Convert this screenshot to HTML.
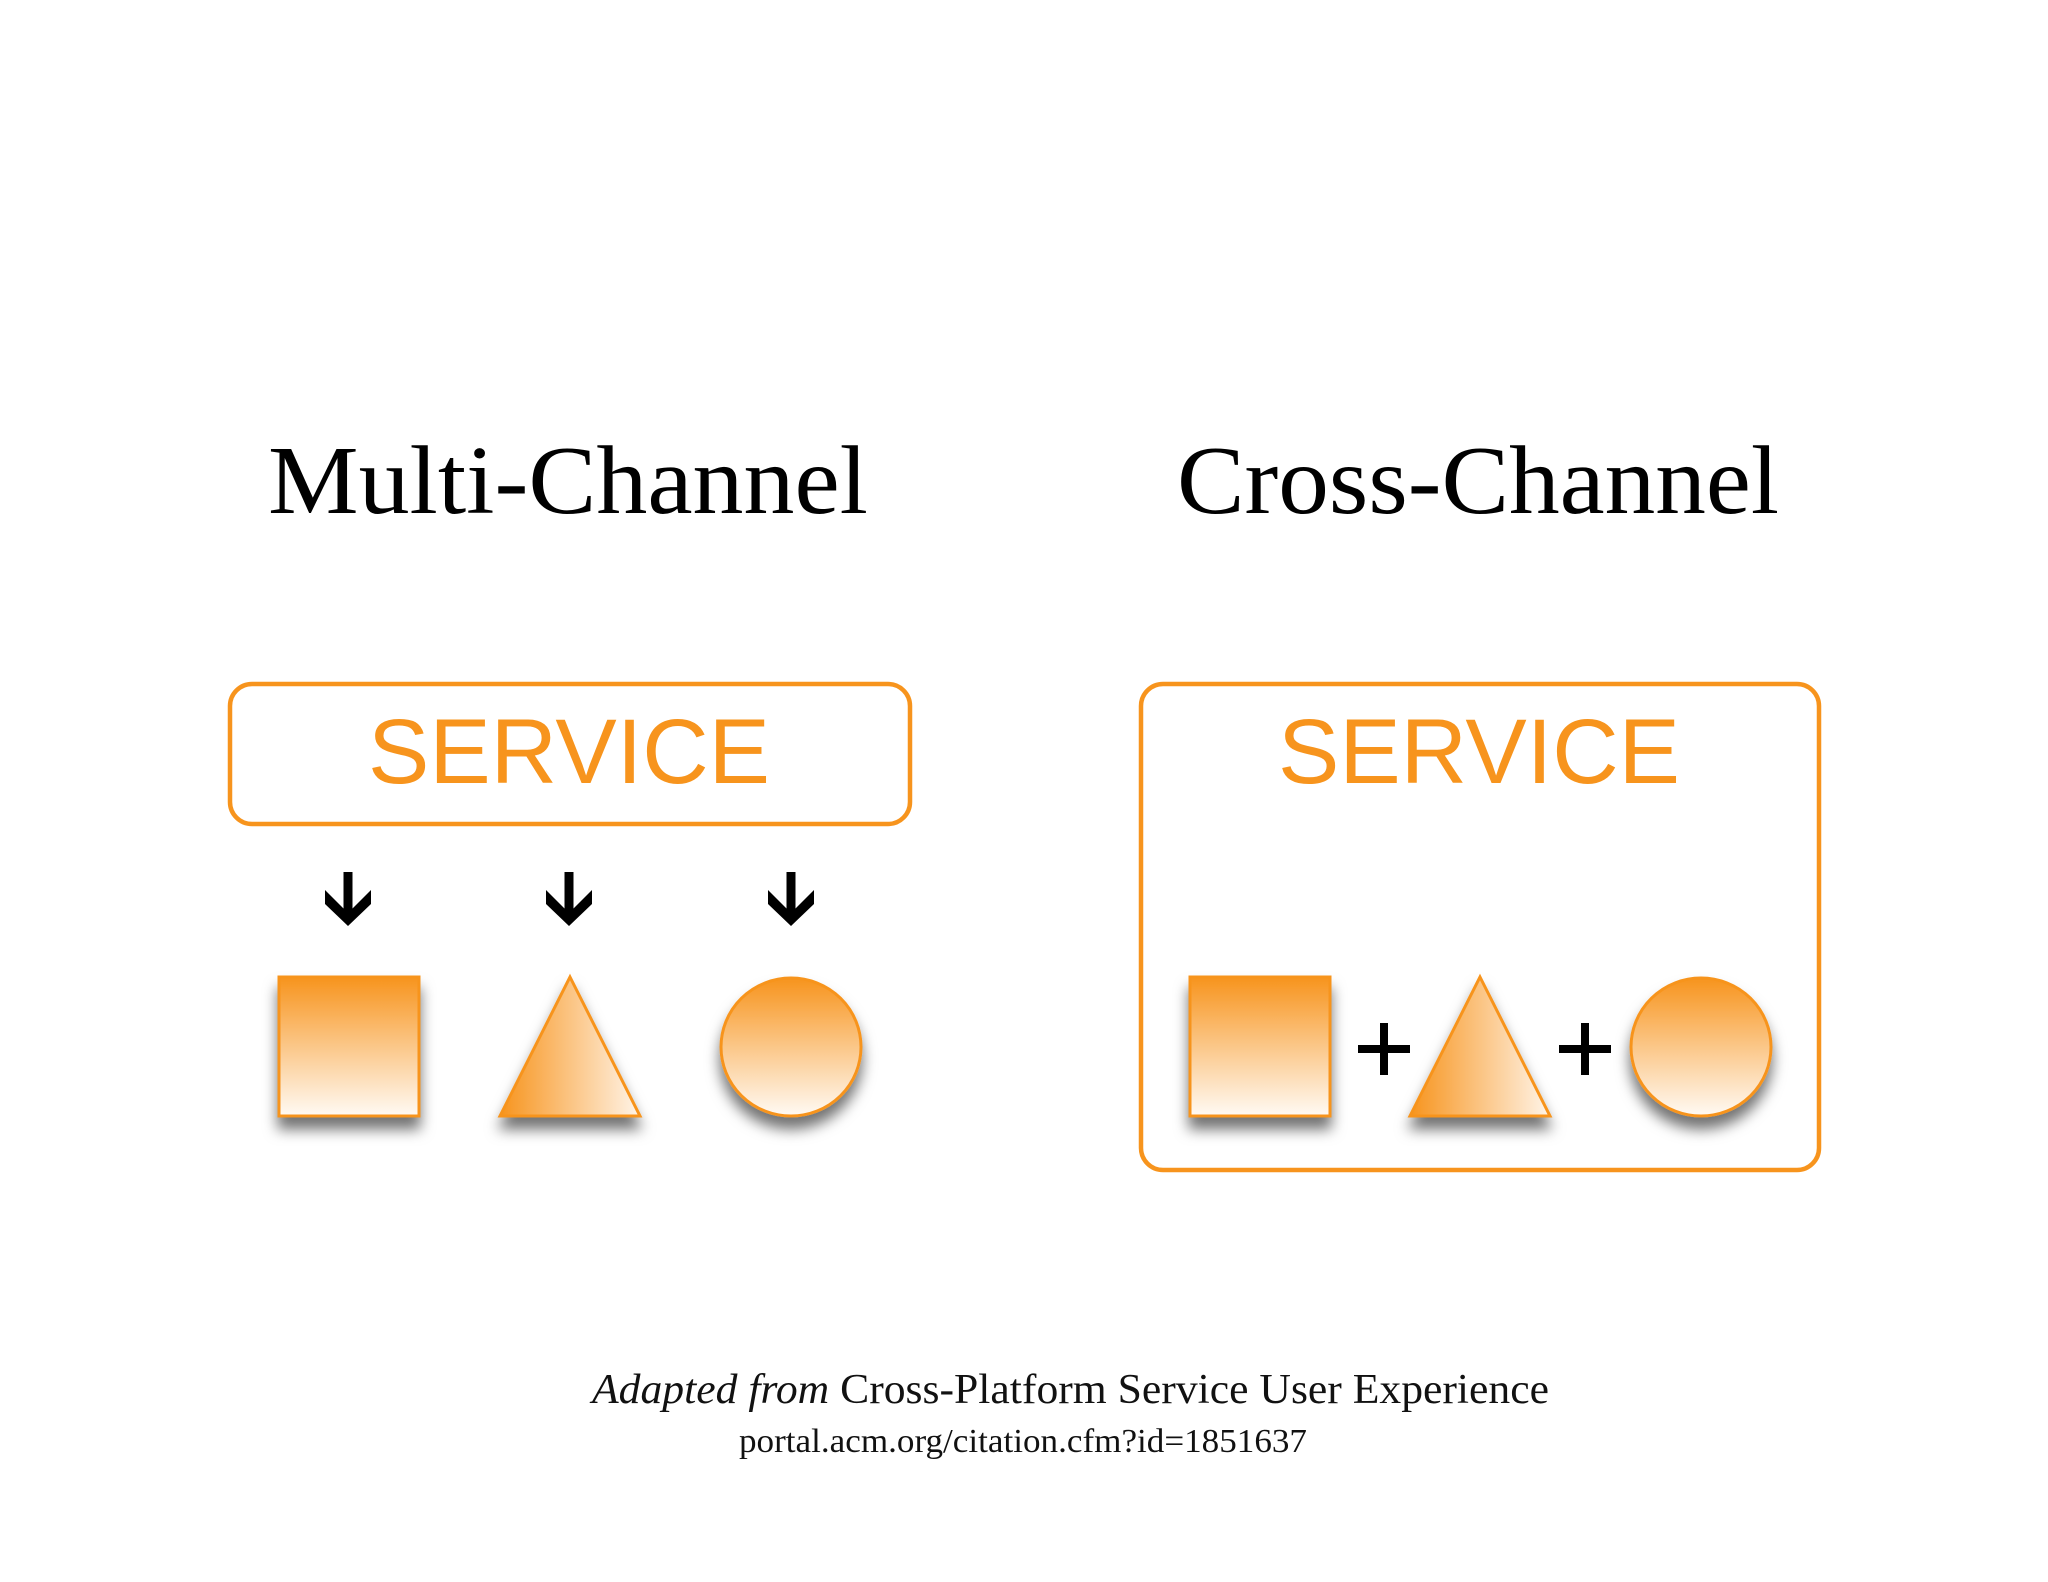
<!DOCTYPE html>
<html><head><meta charset="utf-8"><style>html,body{margin:0;padding:0;background:#fff;}svg{display:block}</style></head>
<body>
<svg width="2048" height="1582" viewBox="0 0 2048 1582" xmlns="http://www.w3.org/2000/svg">
<defs>
<linearGradient id="gv" x1="0" y1="0" x2="0" y2="1"><stop offset="0" stop-color="#f7941d"/><stop offset="1" stop-color="#fffaf4"/></linearGradient>
<linearGradient id="gh" x1="0" y1="0" x2="1" y2="0"><stop offset="0" stop-color="#f7941d"/><stop offset="1" stop-color="#fff4e8"/></linearGradient>
<filter id="sh" x="-30%" y="-30%" width="160%" height="170%"><feDropShadow dx="0" dy="12" stdDeviation="7" flood-color="#000" flood-opacity="0.55"/></filter>
<g id="arrow"><rect x="-4.5" y="0" width="9" height="48" fill="#000"/><polygon points="-23,18 -23,32 0,54 23,32 23,18 0,41" fill="#000"/></g>
<g id="plus"><rect x="-26" y="-4" width="52" height="8" fill="#000"/><rect x="-4" y="-26" width="8" height="52" fill="#000"/></g>
</defs>
<rect width="2048" height="1582" fill="#fff"/>
<g font-family="'Liberation Serif',serif" fill="#000">
<text x="568" y="513" font-size="98" text-anchor="middle" textLength="600" lengthAdjust="spacingAndGlyphs">Multi-Channel</text>
<text x="1478" y="513" font-size="98" text-anchor="middle" textLength="602" lengthAdjust="spacingAndGlyphs">Cross-Channel</text>
</g>
<rect x="230" y="684" width="680" height="140" rx="22" fill="none" stroke="#f7941d" stroke-width="4.5"/>
<rect x="1141" y="684" width="678" height="486" rx="22" fill="none" stroke="#f7941d" stroke-width="4.5"/>
<g font-family="'Liberation Sans',sans-serif" fill="#f7941d" font-size="92" text-anchor="middle">
<text x="569" y="783" textLength="402" lengthAdjust="spacingAndGlyphs">SERVICE</text>
<text x="1479" y="783" textLength="402" lengthAdjust="spacingAndGlyphs">SERVICE</text>
</g>
<use href="#arrow" x="348" y="872"/>
<use href="#arrow" x="569" y="872"/>
<use href="#arrow" x="791" y="872"/>
<g stroke="#f7941d" stroke-width="3" filter="url(#sh)">
<rect x="279" y="977" width="140" height="139" fill="url(#gv)"/>
<polygon points="570,977 640,1116 500,1116" fill="url(#gh)"/>
<ellipse cx="791" cy="1047" rx="70" ry="69" fill="url(#gv)"/>
<rect x="1190" y="977" width="140" height="139" fill="url(#gv)"/>
<polygon points="1480,977 1550,1116 1410,1116" fill="url(#gh)"/>
<ellipse cx="1701" cy="1047" rx="70" ry="69" fill="url(#gv)"/>
</g>
<use href="#plus" x="1384" y="1049"/>
<use href="#plus" x="1585" y="1049"/>
<g font-family="'Liberation Serif',serif" fill="#111">
<text x="592" y="1403" font-size="42" textLength="957" lengthAdjust="spacingAndGlyphs"><tspan font-style="italic">Adapted from</tspan> Cross-Platform Service User Experience</text>
<text x="739" y="1452" font-size="34" textLength="568" lengthAdjust="spacingAndGlyphs">portal.acm.org/citation.cfm?id=1851637</text>
</g>
</svg>
</body></html>
